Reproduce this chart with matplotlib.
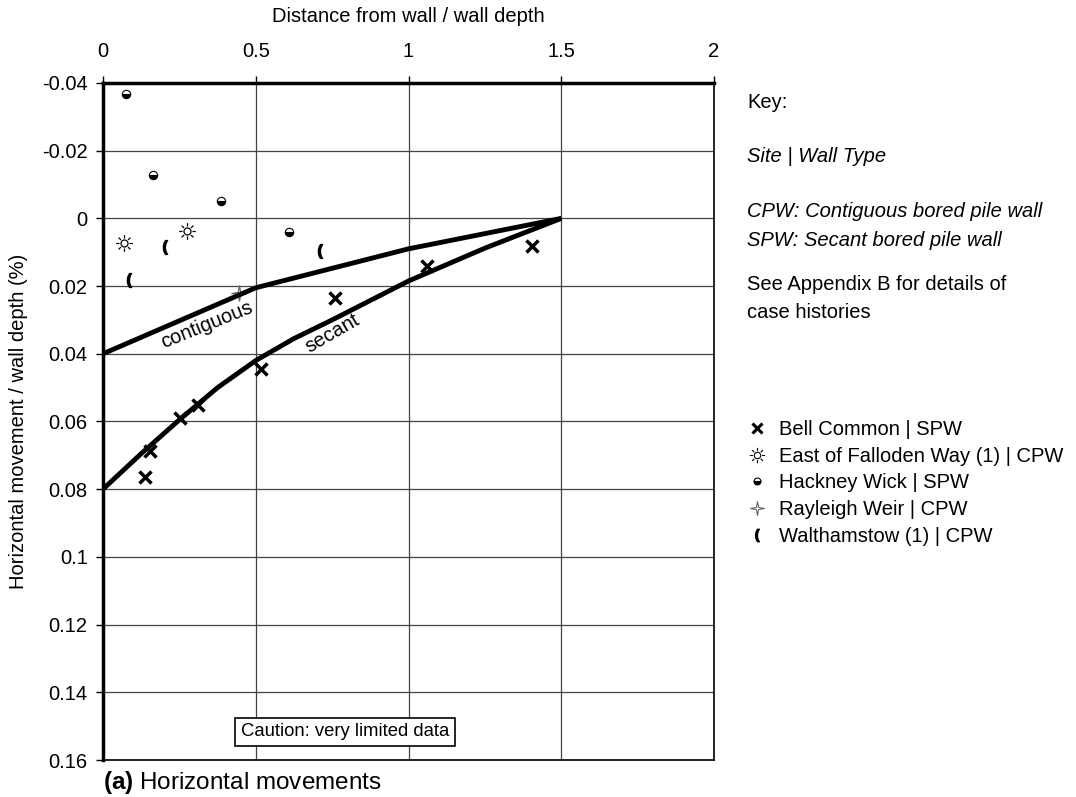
import matplotlib
matplotlib.use("Agg")
import numpy as np
import matplotlib.pyplot as plt
from matplotlib.lines import Line2D
from matplotlib.path import Path

plt.rcParams['font.family'] = ['Liberation Sans', 'DejaVu Sans']
plt.rcParams['mathtext.fontset'] = 'custom'
plt.rcParams['mathtext.rm'] = 'Liberation Sans'
plt.rcParams['mathtext.bf'] = 'Liberation Sans:bold'
plt.rcParams['mathtext.it'] = 'Liberation Sans:italic'

# ---- data ----
bell_x = [0.137, 0.154, 0.252, 0.312, 0.517, 0.759, 1.06, 1.405]
bell_y = [0.0764, 0.0688, 0.059, 0.055, 0.0445, 0.0235, 0.0142, 0.0083]
east_x = [0.069, 0.276]
east_y = [0.0073, 0.0036]
hack_x = [0.074, 0.165, 0.385, 0.609]
hack_y = [-0.0367, -0.0128, -0.0052, 0.0039]
ray_x = [0.446]
ray_y = [0.022]
walt_x = [0.203, 0.71, 0.086]
walt_y = [0.0086, 0.0095, 0.0183]

cont_x = [0.0, 0.5, 1.0, 1.5]
cont_y = [0.040, 0.0205, 0.009, 0.0]
sec_x = [0.0, 0.125, 0.25, 0.375, 0.5, 0.625, 0.75, 1.0, 1.25, 1.5]
sec_y = [0.080, 0.0695, 0.0595, 0.050, 0.042, 0.0355, 0.030, 0.0185, 0.0088, 0.0]

xticks = [0, 0.5, 1, 1.5, 2]
xtick_labels = ['0', '0.5', '1', '1.5', '2']
yticks = [-0.04, -0.02, 0, 0.02, 0.04, 0.06, 0.08, 0.1, 0.12, 0.14, 0.16]
ytick_labels = ['-0.04', '-0.02', '0', '0.02', '0.04', '0.06', '0.08', '0.1', '0.12', '0.14', '0.16']

legend_labels = ['Bell Common | SPW', 'East of Falloden Way (1) | CPW', 'Hackney Wick | SPW',
                 'Rayleigh Weir | CPW', 'Walthamstow (1) | CPW']

FS = 14.5

# ---- custom marker shapes ----
def sun_path():
    circ = Path.circle((0, 0), 0.42)
    verts = list(circ.vertices)
    codes = list(circ.codes)
    for k in range(8):
        a = k * np.pi / 4
        verts += [(0.6 * np.cos(a), 0.6 * np.sin(a)), (1.0 * np.cos(a), 1.0 * np.sin(a))]
        codes += [Path.MOVETO, Path.LINETO]
    return Path(verts, codes)


def star4_path():
    r_in = 0.22
    pts = []
    for k in range(4):
        a = k * np.pi / 2 + np.pi / 2
        pts.append((np.cos(a), np.sin(a)))
        b = a + np.pi / 4
        pts.append((r_in * np.cos(b), r_in * np.sin(b)))
    pts.append(pts[0])
    codes = [Path.MOVETO] + [Path.LINETO] * (len(pts) - 2) + [Path.CLOSEPOLY]
    return Path(pts, codes)


SUN = sun_path()
STAR4 = star4_path()

fig = plt.figure(figsize=(10.76, 7.97), dpi=100)
ax = fig.add_axes([0.0957, 0.0464, 0.5679, 0.8495])

ax.set_xlim(0, 2)
ax.set_ylim(0.16, -0.04)
ax.set_xticks(xticks)
ax.set_xticklabels(xtick_labels)
ax.set_yticks(yticks)
ax.set_yticklabels(ytick_labels)
ax.xaxis.tick_top()
ax.xaxis.set_label_position('top')
ax.tick_params(axis='both', labelsize=FS, length=5, width=1, color='black', direction='out')
ax.tick_params(axis='x', pad=11)
ax.tick_params(axis='y', pad=6)
ax.grid(True, color='#444444', linewidth=0.9)
ax.set_axisbelow(True)
ax.set_xlabel('Distance from wall / wall depth', fontsize=FS, labelpad=14)
ax.set_ylabel('Horizontal movement / wall depth (%)', fontsize=FS, labelpad=10)

for s in ['left', 'top']:
    ax.spines[s].set_linewidth(2.5)
for s in ['right', 'bottom']:
    ax.spines[s].set_linewidth(1.2)

ax.plot(cont_x, cont_y, color='black', lw=3.5, solid_capstyle='butt', zorder=3)
ax.plot(sec_x, sec_y, color='black', lw=3.5, solid_capstyle='butt', zorder=3)

ax.plot(bell_x, bell_y, ls='none', marker='x', ms=8, mew=2.5, color='black', zorder=4)
ax.plot(east_x, east_y, ls='none', marker=SUN, ms=12, mfc='none', mec='black', mew=0.9, zorder=4)
ax.plot(hack_x, hack_y, ls='none', marker='o', ms=6, fillstyle='bottom', mfc='black',
        mfcalt='white', mec='black', mew=0.8, zorder=4)
ax.plot(ray_x, ray_y, ls='none', marker=STAR4, ms=11, mfc='none', mec='#666666', mew=0.9, zorder=2)
ax.plot(walt_x, walt_y, ls='none', marker=r'$\mathbf{(}$', ms=10, color='black', zorder=4)

ax.text(0.341, 0.0314, 'contiguous', rotation=22, fontsize=FS, ha='center', va='center', zorder=5)
ax.text(0.751, 0.0339, 'secant', rotation=30, fontsize=FS, ha='center', va='center', zorder=5)

ax.text(0.792, 0.1516, 'Caution: very limited data', fontsize=13.3, ha='center', va='center',
        bbox=dict(boxstyle='square,pad=0.3', fc='white', ec='black', lw=1.2), zorder=6)

# key text
kx = 747 / 1076
fig.text(kx, 1 - 103 / 797, 'Key:', fontsize=FS, va='center')
fig.text(kx, 1 - 157 / 797, 'Site | Wall Type', fontsize=FS, va='center', style='italic')
fig.text(kx, 1 - 212 / 797, 'CPW: Contiguous bored pile wall', fontsize=FS, va='center', style='italic')
fig.text(kx, 1 - 240 / 797, 'SPW: Secant bored pile wall', fontsize=FS, va='center', style='italic')
fig.text(kx, 1 - 285 / 797, 'See Appendix B for details of', fontsize=FS, va='center')
fig.text(kx, 1 - 312 / 797, 'case histories', fontsize=FS, va='center')

handles = [
    Line2D([], [], ls='none', marker='x', ms=7, mew=2.2, color='black'),
    Line2D([], [], ls='none', marker=SUN, ms=11, mfc='none', mec='black', mew=0.8),
    Line2D([], [], ls='none', marker='o', ms=5, fillstyle='bottom', mfc='black', mfcalt='white',
           mec='black', mew=0.8),
    Line2D([], [], ls='none', marker=STAR4, ms=10, mfc='none', mec='#666666', mew=0.8),
    Line2D([], [], ls='none', marker=r'$\mathbf{(}$', ms=9, color='black'),
]
fig.legend(handles, legend_labels, loc='upper left', bbox_to_anchor=(747 / 1076, 1 - 420 / 797),
           frameon=False, fontsize=FS, handlelength=1.0, handletextpad=0.6, labelspacing=0.38,
           borderpad=0, borderaxespad=0)

fig.text(103 / 1076, 1 - 782 / 797, r'$\mathbf{(a)}$ Horizontal movements', fontsize=17.5, va='center')

fig.savefig('out.png', dpi=100)
